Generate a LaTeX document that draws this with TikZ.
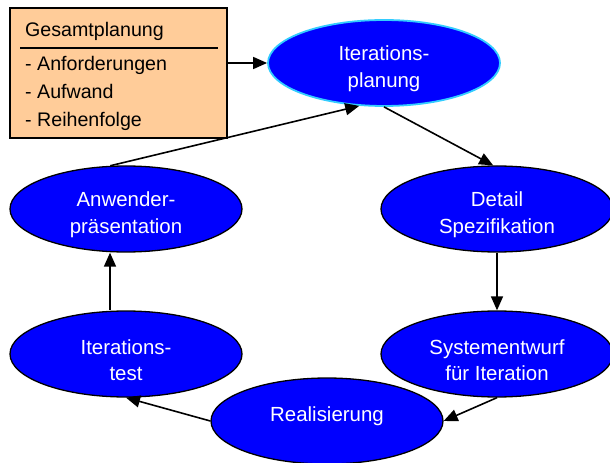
\documentclass[tikz,border=0pt]{standalone}
\usepackage{fontspec}
\setmainfont{Liberation Sans}
\usetikzlibrary{shapes.geometric,arrows.meta}
\definecolor{kasten}{HTML}{FFCC99}
\definecolor{rand}{HTML}{33CCFF}

\begin{document}
\begin{tikzpicture}[x=1bp,y=-1bp,
  phase/.style={ellipse,draw,fill=blue,text=white,minimum width=232bp,minimum height=86bp,
    inner sep=0pt,align=center,font=\fontsize{20.5}{27}\selectfont,line width=1.3bp,
    text height=54bp},
  pfeil/.style={-{Triangle[length=14bp,width=12bp]},line width=1.6bp},
  zeile/.style={anchor=base west,inner sep=0pt,font=\fontsize{19.7}{23}\selectfont}]
  \useasboundingbox (0,0) rectangle (610,463);
  \node[draw,fill=kasten,minimum width=217bp,minimum height=130bp,inner sep=0pt,line width=1.4bp]
    (gesamt) at (118.5,73) {};
  \node[zeile] (titel) at (25,37) {Gesamtplanung};
  \draw[line width=1.4bp] (20,48) -- (218,48);
  \foreach \t [count=\i] in {Anforderungen,Aufwand,Reihenfolge}
    \node[zeile] (punkt\i) at (25,43+28*\i) {- \t};

  \node[phase,draw=rand,line width=1.8bp] (plan) at (384,63) {Iterations-\\planung};
  \node[phase] (detail) at (497,209) {Detail\\Spezifikation};
  \node[phase] (entwurf) at (497,354) {Systementwurf\\für Iteration};
  \node[phase,text height=15bp,text depth=15bp] (real) at (327,421) {Realisierung};
  \node[phase] (test) at (126,354) {Iterations-\\test};
  \node[phase] (praes) at (126,209) {Anwender-\\präsentation};

  \draw[pfeil] (gesamt.east |- plan.west) -- (plan.west);
  \draw[pfeil] (plan.south) -- (detail.95);
  \draw[pfeil] (detail.south) -- (entwurf.north);
  \draw[pfeil] (entwurf.south) -- (real.east);
  \draw[pfeil] (real.west) -- (test.south);
  \draw[pfeil] ([xshift=-16bp]test.north) -- ([xshift=-16bp]praes.south);
  \draw[pfeil] (praes.110) -- (plan.240);
\end{tikzpicture}
\end{document}
